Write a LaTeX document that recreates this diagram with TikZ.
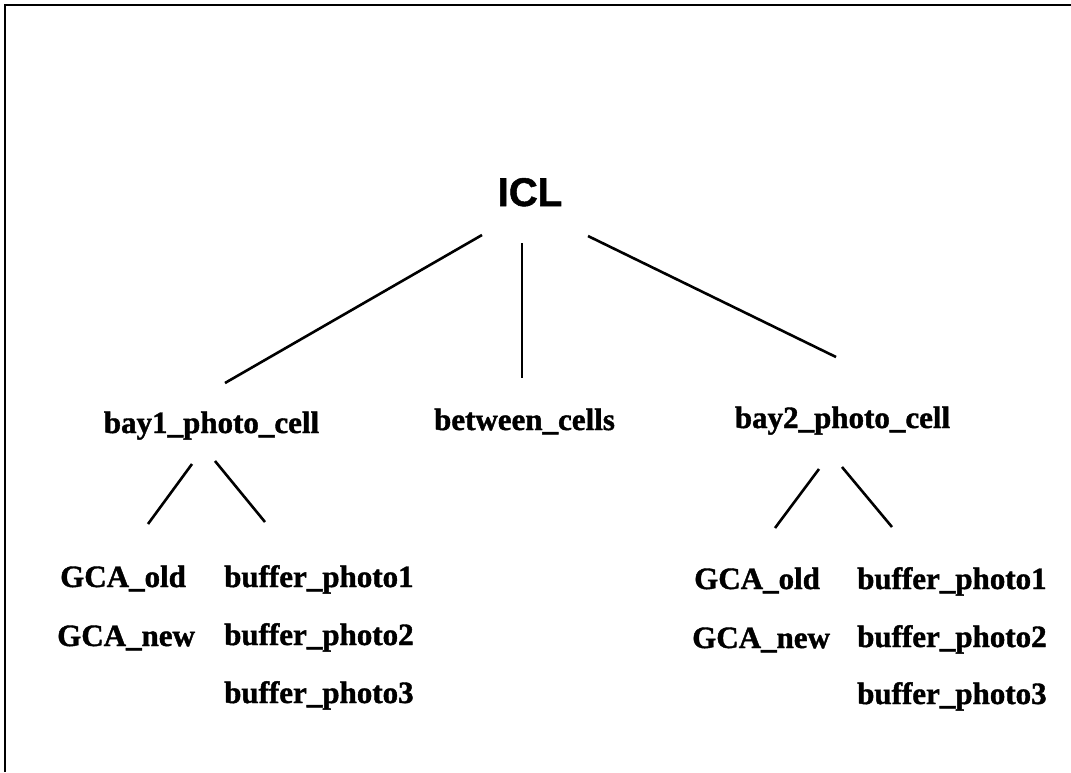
\documentclass[tikz,border=0pt]{standalone}
\usepackage{fontspec}
\setmainfont{Liberation Serif}[BoldFeatures={FakeBold=1.3}]
\newfontfamily\headfont{Liberation Sans}[BoldFeatures={FakeBold=1.3}]
\begin{document}
\begin{tikzpicture}[x=1pt,y=-1pt,
  lbl/.style={inner sep=0pt, font=\fontsize{31}{31}\selectfont\bfseries},
  root/.style={inner sep=0pt, font=\headfont\fontsize{40}{40}\selectfont\bfseries},
  link/.style={line width=2.6pt},
  frame/.style={line width=2pt}]
\useasboundingbox (0,0) rectangle (1071,772);

% open frame along the top and left edges
\draw[frame] (4.5,772) -- (4.5,4.5) -- (1071,4.5);

% tree labels
\node[root, anchor=base] (icl) at (530,206) {ICL};
\node[lbl, anchor=base] (bay1) at (211.5,433) {bay1\_photo\_cell};
\node[lbl, anchor=base] (between) at (524.5,430) {between\_cells};
\node[lbl, anchor=base] (bay2) at (842.5,428) {bay2\_photo\_cell};

% leaves under bay1
\node[lbl, anchor=base west] (b1old) at (60,587) {GCA\_old};
\node[lbl, anchor=base west] (b1new) at (57,646) {GCA\_new};
\node[lbl, anchor=base west] (b1buf1) at (224,587) {buffer\_photo1};
\node[lbl, anchor=base west] (b1buf2) at (224,645) {buffer\_photo2};
\node[lbl, anchor=base west] (b1buf3) at (224,703) {buffer\_photo3};

% leaves under bay2
\node[lbl, anchor=base west] (b2old) at (694,589) {GCA\_old};
\node[lbl, anchor=base west] (b2new) at (692,648) {GCA\_new};
\node[lbl, anchor=base west] (b2buf1) at (857,589) {buffer\_photo1};
\node[lbl, anchor=base west] (b2buf2) at (857,647) {buffer\_photo2};
\node[lbl, anchor=base west] (b2buf3) at (857,704) {buffer\_photo3};

% end points of the branches
\coordinate (icl-sw) at (482,235);
\coordinate (icl-s) at (522,243);
\coordinate (icl-se) at (588,236);
\coordinate (bay1-n) at (225,383);
\coordinate (between-n) at (522,378);
\coordinate (bay2-n) at (836,357);
\coordinate (bay1-sw) at (192,464);
\coordinate (bay1-se) at (215,461);
\coordinate (b1old-n) at (148,524);
\coordinate (b1buf-n) at (265,522);
\coordinate (bay2-sw) at (819,469);
\coordinate (bay2-se) at (842,467);
\coordinate (b2old-n) at (775,528);
\coordinate (b2buf-n) at (892,527);

% branches
\draw[link] (icl-sw) -- (bay1-n);
\draw[link] (icl-s) -- (between-n);
\draw[link] (icl-se) -- (bay2-n);
\draw[link] (bay1-sw) -- (b1old-n);
\draw[link] (bay1-se) -- (b1buf-n);
\draw[link] (bay2-sw) -- (b2old-n);
\draw[link] (bay2-se) -- (b2buf-n);
\end{tikzpicture}
\end{document}
